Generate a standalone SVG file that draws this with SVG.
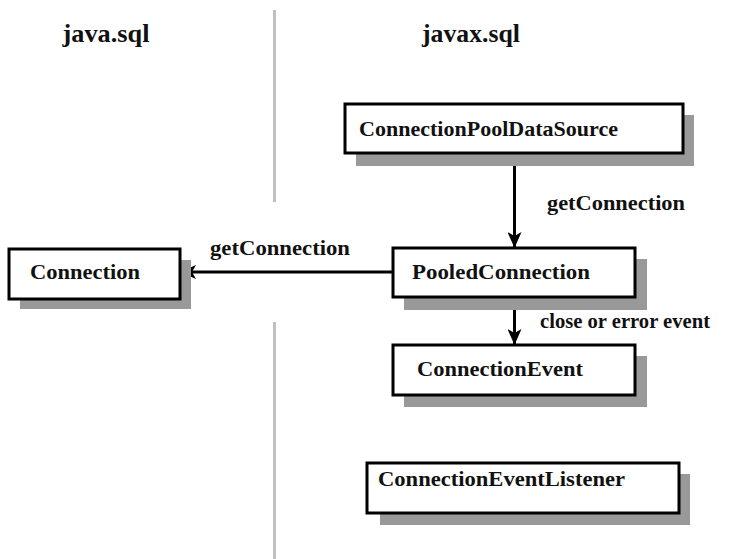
<svg xmlns="http://www.w3.org/2000/svg" width="730" height="559" viewBox="0 0 730 559">
<style>
  .shadow { fill: #999999; }
  .box { fill: #ffffff; stroke: #000000; stroke-width: 3; }
  .t { font-family: "Liberation Serif", "Times New Roman", serif; font-weight: bold; fill: #111111; }
  .name { font-size: 22px; }
  .head { font-size: 26px; }
  .lbl { font-size: 21px; }
  .divider { stroke: #c0c0c0; stroke-width: 3; }
  .conn { stroke: #000000; stroke-width: 3; fill: none; }
</style>
<defs>
  <marker id="arrow" viewBox="0 0 16 14" refX="15" refY="7" markerWidth="16" markerHeight="14" markerUnits="userSpaceOnUse" orient="auto">
    <path d="M0,0 L16,7 L0,14 L4,7 Z" fill="#000000"/>
  </marker>
</defs>

<g id="dividers">
  <line class="divider" x1="274.5" y1="10" x2="274.5" y2="202"/>
  <line class="divider" x1="274.5" y1="322" x2="274.5" y2="559"/>
</g>

<g id="headers">
  <text class="t head" x="106" y="42" text-anchor="middle" textLength="87" lengthAdjust="spacingAndGlyphs">java.sql</text>
  <text class="t head" x="471" y="42" text-anchor="middle" textLength="98" lengthAdjust="spacingAndGlyphs">javax.sql</text>
</g>

<g id="connectors">
  <line class="conn" x1="514.5" y1="153" x2="514.5" y2="247" marker-end="url(#arrow)"/>
  <line class="conn" x1="393" y1="272" x2="181" y2="272" marker-end="url(#arrow)"/>
  <line class="conn" x1="514.5" y1="297" x2="514.5" y2="344" marker-end="url(#arrow)"/>
  <text class="t lbl" x="547" y="210" textLength="138" lengthAdjust="spacingAndGlyphs">getConnection</text>
  <text class="t lbl" x="210" y="255" textLength="140" lengthAdjust="spacingAndGlyphs">getConnection</text>
  <text class="t lbl" x="540" y="328" textLength="170" lengthAdjust="spacingAndGlyphs">close or error event</text>
</g>

<g id="ConnectionPoolDataSource">
  <rect class="shadow" x="356" y="115" width="338" height="51"/>
  <rect class="box" x="345" y="104" width="338" height="49"/>
  <text class="t name" x="359" y="136" textLength="259" lengthAdjust="spacingAndGlyphs">ConnectionPoolDataSource</text>
</g>

<g id="Connection">
  <rect class="shadow" x="20" y="260" width="171" height="49"/>
  <rect class="box" x="9" y="249" width="171" height="50"/>
  <text class="t name" x="30" y="279" textLength="110" lengthAdjust="spacingAndGlyphs">Connection</text>
</g>

<g id="PooledConnection">
  <rect class="shadow" x="404" y="259" width="243" height="51"/>
  <rect class="box" x="393" y="248" width="242" height="49"/>
  <text class="t name" x="412" y="279" textLength="178" lengthAdjust="spacingAndGlyphs">PooledConnection</text>
</g>

<g id="ConnectionEvent">
  <rect class="shadow" x="404" y="356" width="243" height="51"/>
  <rect class="box" x="393" y="345" width="242" height="50"/>
  <text class="t name" x="417" y="376" textLength="166" lengthAdjust="spacingAndGlyphs">ConnectionEvent</text>
</g>

<g id="ConnectionEventListener">
  <rect class="shadow" x="380" y="474" width="310" height="51"/>
  <rect class="box" x="367" y="463" width="312" height="50"/>
  <text class="t name" x="378" y="486" textLength="247" lengthAdjust="spacingAndGlyphs">ConnectionEventListener</text>
</g>
</svg>
